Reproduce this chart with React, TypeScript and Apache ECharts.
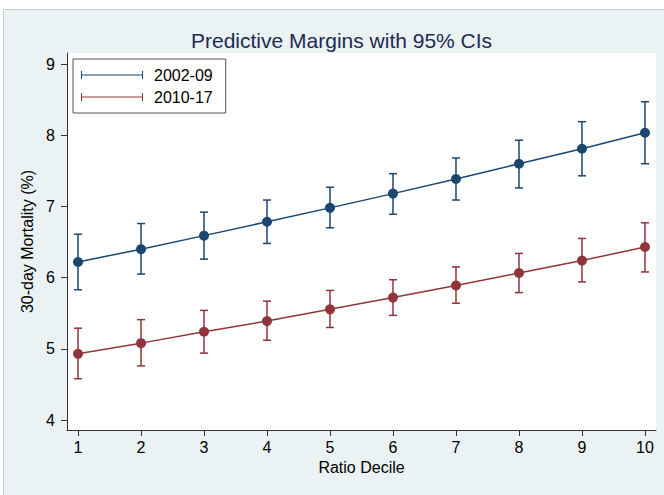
import React, { useEffect, useRef } from "react";
import * as echarts from "echarts";

const deciles = [1, 2, 3, 4, 5, 6, 7, 8, 9, 10];
const xTicks = [1, 2, 3, 4, 5, 6, 7, 8, 9, 10];
const yTicks = [4, 5, 6, 7, 8, 9];

const early = [6.22, 6.4, 6.59, 6.785, 6.98, 7.18, 7.385, 7.6, 7.81, 8.035];
const earlyLo = [5.83, 6.05, 6.26, 6.48, 6.7, 6.89, 7.09, 7.26, 7.43, 7.6];
const earlyHi = [6.61, 6.76, 6.92, 7.09, 7.27, 7.46, 7.68, 7.93, 8.19, 8.47];

const late = [4.93, 5.08, 5.24, 5.39, 5.555, 5.72, 5.89, 6.065, 6.24, 6.43];
const lateLo = [4.58, 4.76, 4.94, 5.12, 5.3, 5.47, 5.64, 5.79, 5.94, 6.08];
const lateHi = [5.29, 5.41, 5.54, 5.67, 5.82, 5.97, 6.15, 6.34, 6.55, 6.77];

const seriesNames = ["2002-09", "2010-17"];

const BLUE = "#1a476f";
const RED = "#90353b";
const FONT = "Liberation Sans, Arial, Helvetica, sans-serif";

const capIcon = "path://M0,0h2v16h-2zM0,7h124v2h-124zM122,0h2v16h-2z";

function errorSeries(name: string, lo: number[], hi: number[], color: string) {
  return {
    type: "custom",
    name: name + " CI",
    z: 2,
    silent: true,
    data: deciles.map((d, i) => [d, lo[i], hi[i]]),
    encode: { x: 0, y: [1, 2] },
    renderItem: (params: any, api: any) => {
      const x = api.value(0);
      const pLo = api.coord([x, api.value(1)]);
      const pHi = api.coord([x, api.value(2)]);
      const hw = 4;
      const style = { stroke: color, lineWidth: 1.5 };
      return {
        type: "group",
        children: [
          { type: "line", shape: { x1: pLo[0], y1: pLo[1], x2: pHi[0], y2: pHi[1] }, style },
          { type: "line", shape: { x1: pLo[0] - hw, y1: pLo[1], x2: pLo[0] + hw, y2: pLo[1] }, style },
          { type: "line", shape: { x1: pHi[0] - hw, y1: pHi[1], x2: pHi[0] + hw, y2: pHi[1] }, style },
        ],
      };
    },
  };
}

function lineSeries(name: string, vals: number[], color: string) {
  return {
    type: "line",
    name,
    z: 3,
    data: deciles.map((d, i) => [d, vals[i]]),
    symbol: "circle",
    symbolSize: 10,
    itemStyle: { color },
    lineStyle: { color, width: 1.5 },
  };
}

export default function App() {
  const ref = useRef<HTMLDivElement>(null);
  useEffect(() => {
    document.body.style.margin = "0";
    if (!ref.current) return;
    const chart = echarts.init(ref.current, undefined, { renderer: "svg" });
    const axisLine = { show: true, lineStyle: { color: "#333", width: 1 } };
    chart.setOption({
      animation: false,
      title: {
        text: "Predictive Margins with 95% CIs",
        left: 186,
        top: 25,
        textStyle: { fontFamily: FONT, fontSize: 21, fontWeight: "normal", color: "#1c2b52" },
      },
      legend: {
        orient: "vertical",
        left: 73,
        top: 59,
        backgroundColor: "#fff",
        borderColor: "#555",
        borderWidth: 1,
        padding: [8, 13, 8, 8],
        itemGap: 6,
        itemWidth: 62,
        itemHeight: 8,
        textStyle: { fontFamily: FONT, fontSize: 16, color: "#000", padding: [0, 0, 0, 6] },
        data: [
          { name: seriesNames[0], icon: capIcon, itemStyle: { color: BLUE, borderWidth: 0 }, lineStyle: { width: 0 } },
          { name: seriesNames[1], icon: capIcon, itemStyle: { color: RED, borderWidth: 0 }, lineStyle: { width: 0 } },
        ],
      },
      grid: {
        left: 67,
        right: 8,
        top: 53,
        bottom: 65,
        show: true,
        backgroundColor: "#fff",
        borderWidth: 0,
      },
      xAxis: {
        type: "value",
        min: 0.825,
        max: 10.175,
        name: "Ratio Decile",
        nameLocation: "middle",
        nameGap: 29,
        nameTextStyle: { fontFamily: FONT, fontSize: 16, color: "#000" },
        axisLine,
        axisTick: { show: true, length: 6, customValues: xTicks, lineStyle: { color: "#333" } },
        axisLabel: { customValues: xTicks, fontFamily: FONT, fontSize: 16, color: "#000", margin: 9 },
        splitLine: { show: false },
      },
      yAxis: {
        type: "value",
        min: 3.86,
        max: 9.155,
        name: "30-day Mortality (%)",
        nameLocation: "middle",
        nameGap: 29,
        nameTextStyle: { fontFamily: FONT, fontSize: 16, color: "#000" },
        axisLine,
        axisTick: { show: true, length: 6, customValues: yTicks, lineStyle: { color: "#333" } },
        axisLabel: { customValues: yTicks, fontFamily: FONT, fontSize: 16, color: "#000", margin: 12 },
        splitLine: { show: false },
      },
      series: [
        errorSeries(seriesNames[0], earlyLo, earlyHi, BLUE),
        errorSeries(seriesNames[1], lateLo, lateHi, RED),
        lineSeries(seriesNames[0], early, BLUE),
        lineSeries(seriesNames[1], late, RED),
      ],
    });
    return () => chart.dispose();
  }, []);
  return (
    <div style={{ position: "relative", width: 664, height: 495, background: "#fff", overflow: "hidden" }}>
      <div
        style={{
          position: "absolute",
          left: 3,
          top: 9,
          right: 0,
          bottom: 0,
          background: "#eaf2f3",
          borderTop: "1px solid #c5cacc",
          borderLeft: "1px solid #c5cacc",
        }}
      />
      <div ref={ref} style={{ position: "absolute", left: 0, top: 0, width: 664, height: 495 }} />
    </div>
  );
}
